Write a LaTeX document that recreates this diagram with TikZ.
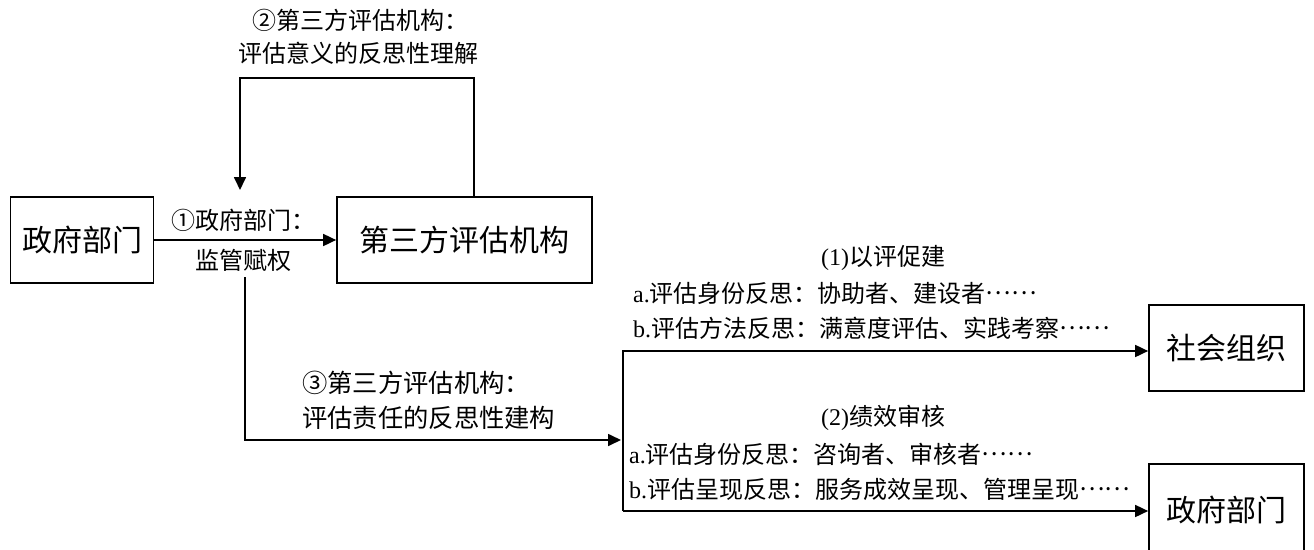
\documentclass[tikz,border=0pt]{standalone}
\usepackage{fontspec}
\setmainfont{Liberation Serif}
\newfontfamily\cjk{Noto Sans CJK SC}
\usetikzlibrary{arrows.meta}
\newcommand\mydots{\raisebox{0.33em}{……}}
\tikzset{
  boxnode/.style={draw, line width=1.7pt, inner sep=0pt, font=\cjk\fontsize{30}{34}\selectfont},
  lbl/.style={inner sep=0pt, font=\fontsize{24}{28}\selectfont},
  biglbl/.style={inner sep=0pt, font=\fontsize{25.3}{29}\selectfont},
  arr/.style={line width=1.7pt, -{Triangle[length=13pt,width=12pt]}}
}
\begin{document}
\begin{tikzpicture}[x=1pt,y=-1pt]
\useasboundingbox (0,0) rectangle (1314,549);
% boxes
\node[boxnode, minimum width=143pt, minimum height=86pt] (gov1) at (82,240) {政府部门};
\node[boxnode, minimum width=255pt, minimum height=86pt] (third) at (464.5,240) {第三方评估机构};
\node[boxnode, minimum width=155pt, minimum height=86pt] (soc) at (1226.5,348) {社会组织};
\node[boxnode, minimum width=155pt, minimum height=92pt] (gov2) at (1226.5,510) {政府部门};
% labels
\node[lbl] (l1a) at (243,220) {\cjk ①政府部门：};
\node[lbl] (l1b) at (243,260) {\cjk 监管赋权};
\node[lbl] (l2a) at (360,20) {\cjk ②第三方评估机构：};
\node[lbl] (l2b) at (358,53) {\cjk 评估意义的反思性理解};
\node[biglbl, anchor=west] (l3a) at (302,383) {\cjk ③第三方评估机构：};
\node[biglbl, anchor=west] (l3b) at (302,418) {\cjk 评估责任的反思性建构};
\node[lbl] (t1) at (883,258) {(1){\cjk 以评促建}};
\node[lbl, anchor=west] (t1a) at (633,293) {a.{\cjk 评估身份反思：协助者、建设者\mydots}};
\node[lbl, anchor=west] (t1b) at (633,328) {b.{\cjk 评估方法反思：满意度评估、实践考察\mydots}};
\node[lbl] (t2) at (883,418) {(2){\cjk 绩效审核}};
\node[lbl, anchor=west] (t2a) at (629,454) {a.{\cjk 评估身份反思：咨询者、审核者\mydots}};
\node[lbl, anchor=west] (t2b) at (629,489) {b.{\cjk 评估呈现反思：服务成效呈现、管理呈现\mydots}};
% coordinates
\coordinate (fbR) at (474,78);
\coordinate (fbL) at (240,78);
\coordinate (fbEnd) at (240,190);
\coordinate (brTop) at (245,277);
\coordinate (brCorner) at (245,440);
\coordinate (brEnd) at (621,440);
\coordinate (bT) at (623,351);
\coordinate (bB) at (623,511);
% connectors
\draw[arr] (gov1.east) -- (third.west);
\draw[arr] (third.north -| fbR) -- (fbR) -- (fbL) -- (fbEnd);
\draw[arr] (brTop) -- (brCorner) -- (brEnd);
\draw[arr] (bB) -- (bT) -- (soc.west |- bT);
\draw[arr] (bB) -- (gov2.west |- bB);
\end{tikzpicture}
\end{document}
